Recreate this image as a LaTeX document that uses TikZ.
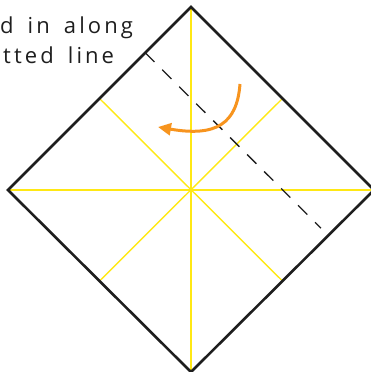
\documentclass[tikz,border=0pt]{standalone}
\usepackage{fontspec}
\usetikzlibrary{arrows.meta, calc}
\newfontfamily\notefont[LetterSpace=14, WordSpace=1.6]{Open Sans}
\definecolor{foldyellow}{RGB}{255,232,20}
\definecolor{foldorange}{RGB}{247,148,30}
\definecolor{foldblack}{RGB}{30,30,30}

\begin{document}
\begin{tikzpicture}[x=1pt, y=-1pt,
    crease/.style={foldyellow, line width=1.4pt},
    edge/.style={foldblack, line width=2.6pt, line join=miter},
    foldline/.style={foldblack, line width=1.3pt, dash pattern=on 13pt off 11pt},
    turn/.style={foldorange, line width=3pt, -{Triangle[length=13pt, width=12pt]}},
    note/.style={font=\notefont\fontsize{22}{28}\selectfont, text=foldblack, anchor=base west, inner sep=0pt}
  ]
    \useasboundingbox (0,0) rectangle (370,372);

    % corners of the square
    \coordinate (top)    at (191,7);
    \coordinate (left)   at (8,190);
    \coordinate (bottom) at (191,372);
    \coordinate (right)  at (374,190);

    % creases
    \draw[crease] (top) -- (bottom);
    \draw[crease] (left) -- (right);
    \draw[crease] ($(top)!0.5!(left)$) -- ($(bottom)!0.5!(right)$);
    \draw[crease] ($(top)!0.5!(right)$) -- ($(bottom)!0.5!(left)$);

    % paper outline
    \draw[edge] (top) -- (right) -- (bottom) -- (left) -- cycle;

    % fold line
    \coordinate (fa) at ($(top)!0.25!(left)$);
    \coordinate (fb) at ($(right)!0.25!(bottom)$);
    \draw[foldline] (fa) -- ($(fa)!0.96!(fb)$);

    % arrow
    \coordinate (as) at (240,84);
    \coordinate (ae) at (158,127);
    \draw[turn] (as) .. controls (237,124) and (216,137) .. (ae);

    % label
    \node[note] (lineA) at (0,33) {d in along};
    \node[note] (lineB) at (3,63) {tted line};
  \end{tikzpicture}
\end{document}
